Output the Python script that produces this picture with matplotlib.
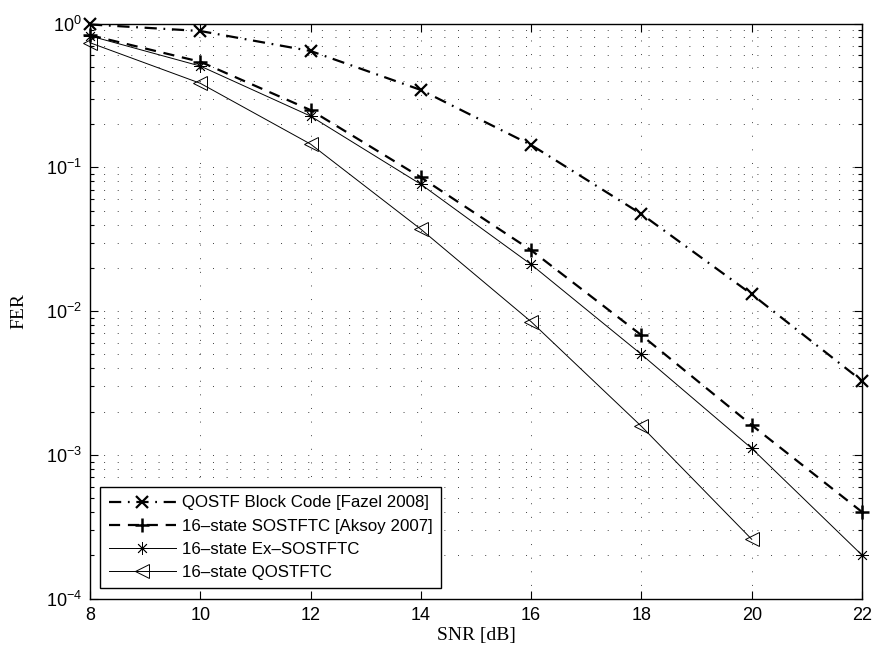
import numpy as np
import matplotlib
matplotlib.use("Agg")
import matplotlib.pyplot as plt
from matplotlib.ticker import LogLocator, FixedLocator, NullFormatter

plt.rcParams["font.family"] = ["Liberation Sans", "DejaVu Sans"]
plt.rcParams["mathtext.fontset"] = "custom"
plt.rcParams["mathtext.rm"] = "Liberation Sans"
plt.rcParams["mathtext.it"] = "Liberation Sans:italic"
plt.rcParams["mathtext.bf"] = "Liberation Sans:bold"

# SNR points (dB)
snr = [8, 10, 12, 14, 16, 18, 20, 22]
snr_qostftc = [8, 10, 12, 14, 16, 18, 20]

# frame error rates
fer_block = [0.985, 0.887, 0.644, 0.345, 0.143, 0.0473, 0.0131, 0.00327]
fer_sostftc = [0.83, 0.542, 0.25, 0.0851, 0.0265, 0.0068, 0.00161, 0.000401]
fer_ex = [0.82, 0.506, 0.227, 0.0762, 0.0211, 0.0050, 0.00111, 0.000201]
fer_qostftc = [0.735, 0.384, 0.145, 0.0371, 0.00844, 0.00158, 0.000259]

labels = [
    "QOSTF Block Code [Fazel 2008]",
    "16\u2013state SOSTFTC [Aksoy 2007]",
    "16\u2013state Ex\u2013SOSTFTC",
    "16\u2013state QOSTFTC",
]

fig = plt.figure(figsize=(8.74, 6.57), dpi=100)
ax = fig.add_axes([0.103, 0.0887, 0.8833, 0.8755])

# asterisk like matlab's '*': plus and cross together
asterisk = (8, 2, 0)

ax.plot(snr, fer_block, color="black", linewidth=1.6, dashes=(5.5, 3, 0.8, 3),
        marker="x", markersize=8, markeredgewidth=1.6, clip_on=False, label=labels[0])
ax.plot(snr, fer_sostftc, color="black", linewidth=1.6, dashes=(5, 3.5),
        marker="+", markersize=10, markeredgewidth=1.8, clip_on=False, label=labels[1])
ax.plot(snr, fer_ex, color="black", linewidth=0.7, linestyle="-",
        marker=asterisk, markersize=9, markeredgewidth=0.6, clip_on=False,
        label=labels[2])
ax.plot(snr_qostftc, fer_qostftc, color="black", linewidth=0.7, linestyle="-",
        marker="<", markersize=10, markeredgewidth=0.7, markerfacecolor="none",
        clip_on=False, label=labels[3])

ax.set_yscale("log")
ax.set_xlim(8, 22)
ax.set_ylim(1e-4, 1)
ax.xaxis.set_major_locator(FixedLocator(snr))
ax.yaxis.set_major_locator(LogLocator(base=10, numticks=10))
ax.yaxis.set_minor_locator(LogLocator(base=10, subs=np.arange(2, 10), numticks=10))
ax.yaxis.set_minor_formatter(NullFormatter())

grid_style = dict(linestyle=(0, (1, 13)), color="black", linewidth=0.7, alpha=0.75)
ax.grid(True, which="major", axis="x", **grid_style)
ax.grid(True, which="both", axis="y", **grid_style)

ax.tick_params(which="both", direction="in", top=True, right=True, labelsize=13, pad=6)
ax.tick_params(which="major", length=6, width=0.8)
ax.tick_params(which="minor", length=3, width=0.8)
for s in ax.spines.values():
    s.set_linewidth(1.0)

ax.set_xlabel("SNR [dB]", family="Liberation Serif", fontsize=14, labelpad=2)
ax.set_ylabel("FER", family="Liberation Serif", fontsize=14, labelpad=13)

leg = ax.legend(loc="lower left", bbox_to_anchor=(0.013, 0.018), borderaxespad=0,
                fontsize=12.2, handlelength=4.0, handletextpad=0.35, labelspacing=0.48,
                borderpad=0.5, fancybox=False, framealpha=1, edgecolor="black")
leg.get_frame().set_linewidth(1.0)

fig.savefig("out.png", dpi=100)
